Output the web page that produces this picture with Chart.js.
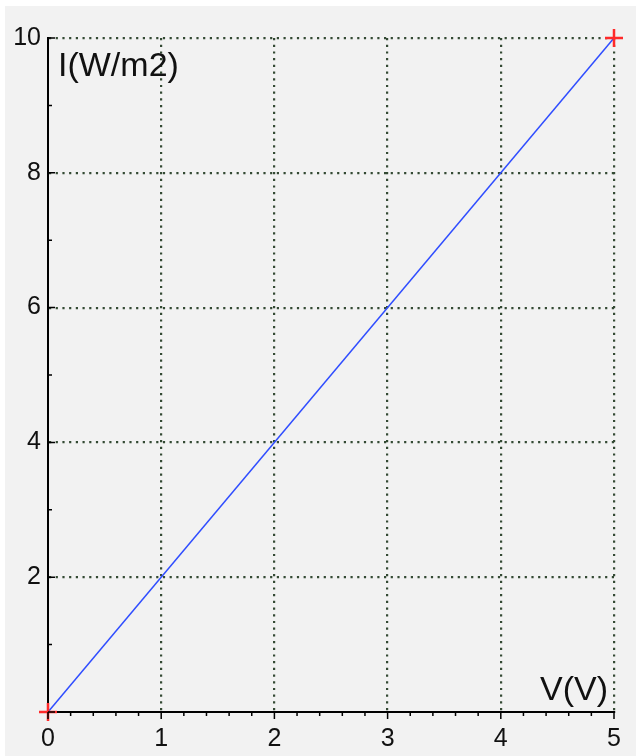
<!DOCTYPE html>
<html>
<head>
<meta charset="utf-8">
<script src="https://cdn.jsdelivr.net/npm/chart.js@4"></script>
<style>
  html, body { margin: 0; padding: 0; background: #fff; }
  #box { position: absolute; left: 5px; top: 6px; width: 631px; height: 750px; background: #f2f2f2; }
</style>
</head>
<body>
<div id="box"><canvas id="chart"></canvas></div>
<script>
// Chart data
const voltage = [0, 5];
const intensity = [0, 10];
const xTickValues = [0, 1, 2, 3, 4, 5];
const yTickValues = [2, 4, 6, 8, 10];
const xTitle = 'V(V)';
const yTitle = 'I(W/m2)';

const fontFamily = "'Liberation Sans', Arial, sans-serif";
const gridColor = '#344a34';

// Minor / major tick marks and in-plot axis titles
const axisExtras = {
    id: 'axisExtras',
    afterDraw(chart) {
        const { ctx, chartArea, scales: { x, y } } = chart;
        ctx.save();
        ctx.strokeStyle = '#000';
        ctx.lineWidth = 1.5;
        ctx.beginPath();
        for (let i = 0; i <= 25; i++) {
            const px = x.getPixelForValue(i / 5);
            const len = i % 5 === 0 ? 7 : 4;
            ctx.moveTo(px, chartArea.bottom);
            ctx.lineTo(px, chartArea.bottom + len);
        }
        for (let v = 0; v <= 10; v++) {
            const py = y.getPixelForValue(v);
            const len = v % 2 === 0 ? 7 : 4;
            ctx.moveTo(chartArea.left, py);
            ctx.lineTo(chartArea.left + len, py);
        }
        ctx.stroke();

        ctx.fillStyle = '#111';
        ctx.font = '34px ' + fontFamily;
        ctx.textBaseline = 'alphabetic';
        ctx.textAlign = 'left';
        ctx.fillText(yTitle, chartArea.left + 10, chartArea.top + 38);
        ctx.textAlign = 'right';
        ctx.fillText(xTitle, chartArea.right - 6, chartArea.bottom - 12);
        ctx.restore();
    }
};

document.addEventListener('DOMContentLoaded', function() {
    const ctx = document.getElementById('chart').getContext('2d');
    new Chart(ctx, {
        type: 'line',
        data: {
            datasets: [{
                data: voltage.map((v, i) => ({ x: v, y: intensity[i] })),
                borderColor: '#2f4dff',
                borderWidth: 1.5,
                pointStyle: 'cross',
                pointRadius: 9,
                pointBorderColor: '#ff2a2a',
                pointBorderWidth: 2.5,
                clip: false,
                fill: false
            }]
        },
        options: {
            responsive: true,
            maintainAspectRatio: false,
            animation: false,
            layout: { padding: { top: 32, right: 22, left: 0, bottom: 0 } },
            plugins: { legend: { display: false }, tooltip: { enabled: false } },
            scales: {
                x: {
                    type: 'linear',
                    min: 0,
                    max: 5,
                    afterBuildTicks: s => { s.ticks = xTickValues.map(v => ({ value: v })); },
                    afterFit: s => { s.height = 44; },
                    ticks: {
                        padding: 12,
                        color: '#111',
                        font: { family: fontFamily, size: 25 },
                        maxRotation: 0
                    },
                    grid: {
                        drawTicks: false,
                        lineWidth: 2.2,
                        color: c => c.tick && c.tick.value === 0 ? 'transparent' : gridColor
                    },
                    border: { display: true, color: '#000', width: 2, dash: [2.2, 4.5] }
                },
                y: {
                    type: 'linear',
                    min: 0,
                    max: 10,
                    afterBuildTicks: s => { s.ticks = [0].concat(yTickValues).map(v => ({ value: v })); },
                    afterFit: s => { s.width = 43; },
                    ticks: {
                        padding: 7,
                        color: '#111',
                        font: { family: fontFamily, size: 25 },
                        callback: v => v === 0 ? '' : v
                    },
                    grid: {
                        drawTicks: false,
                        lineWidth: 2.2,
                        color: c => c.tick && c.tick.value === 0 ? 'transparent' : gridColor
                    },
                    border: { display: true, color: '#000', width: 2, dash: [2.2, 4.5] }
                }
            }
        },
        plugins: [axisExtras]
    });
});
</script>
</body>
</html>
